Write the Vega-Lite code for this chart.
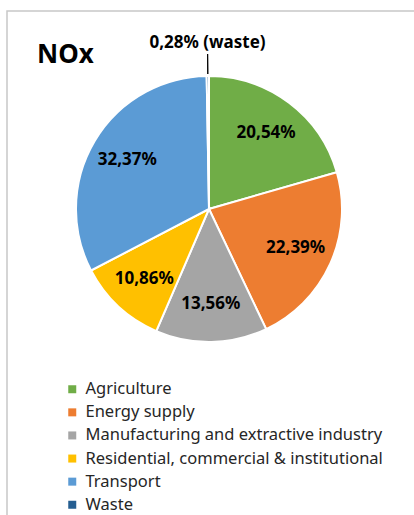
{
  "$schema": "https://vega.github.io/schema/vega-lite/v6.json",
  "width": 412,
  "height": 510,
  "autosize": {"type": "none"},
  "padding": {"left": 7, "top": 11, "right": 0, "bottom": 0},
  "background": "white",
  "view": {"stroke": "#c8c8c8", "strokeWidth": 1.5, "fill": "white"},
  "config": {
    "font": "Noto Sans"
  },
  "title": {
    "text": "NOx",
    "anchor": "start",
    "frame": "group",
    "fontSize": 26,
    "fontWeight": "bold",
    "color": "#000000",
    "font": "Noto Sans",
    "baseline": "alphabetic",
    "dx": 30,
    "dy": 82
  },
  "data": {
    "values": [
      {"sector": "Agriculture", "share": 20.54, "inner": "20,54%", "outer": ""},
      {"sector": "Energy supply", "share": 22.39, "inner": "22,39%", "outer": ""},
      {"sector": "Manufacturing and extractive industry", "share": 13.56, "inner": "13,56%", "outer": ""},
      {"sector": "Residential, commercial & institutional", "share": 10.86, "inner": "10,86%", "outer": ""},
      {"sector": "Transport", "share": 32.37, "inner": "32,37%", "outer": ""},
      {"sector": "Waste", "share": 0.28, "inner": "", "outer": "0,28% (waste)"}
    ]
  },
  "layer": [
    {
      "mark": {"type": "arc", "outerRadius": 133, "stroke": "white", "strokeWidth": 2, "x": 202, "y": 198},
      "encoding": {
        "theta": {"field": "share", "type": "quantitative", "stack": true},
        "order": {"field": "sector", "sort": "ascending"},
        "color": {
          "field": "sector",
          "type": "nominal",
          "scale": {
            "domain": ["Agriculture", "Energy supply", "Manufacturing and extractive industry", "Residential, commercial & institutional", "Transport", "Waste"],
            "range": ["#70AD47", "#ED7D31", "#A5A5A5", "#FFC000", "#5B9BD5", "#255E91"]
          },
          "legend": {
            "orient": "none",
            "legendX": 57,
            "legendY": 370,
            "title": null,
            "padding": 0,
            "symbolType": "square",
            "symbolSize": 64,
            "symbolStrokeWidth": 0,
            "labelFontSize": 16.5,
            "labelFont": "Noto Sans",
            "labelColor": "#262626",
            "labelOffset": 5,
            "labelLimit": 400,
            "rowPadding": 6.1
          }
        }
      }
    },
    {
      "mark": {"type": "arc", "innerRadius": 135, "outerRadius": 155, "padAngle": 0.4, "fillOpacity": 0, "stroke": "black", "strokeWidth": 1, "x": 202, "y": 198},
      "encoding": {
        "theta": {"field": "share", "type": "quantitative", "stack": true},
        "order": {"field": "sector", "sort": "ascending"},
        "detail": {"field": "sector", "type": "nominal"},
        "strokeOpacity": {"condition": {"test": "datum.sector === 'Waste'", "value": 1}, "value": 0}
      }
    },
    {
      "mark": {"type": "text", "radius": 95, "fontSize": 17, "fontWeight": "bold", "fill": "#000000", "font": "Noto Sans", "x": 202, "y": 198},
      "encoding": {
        "theta": {"field": "share", "type": "quantitative", "stack": true},
        "order": {"field": "sector", "sort": "ascending"},
        "detail": {"field": "sector", "type": "nominal"},
        "text": {"field": "inner", "type": "nominal"}
      }
    },
    {
      "mark": {"type": "text", "radius": 166, "fontSize": 17, "fontWeight": "bold", "fill": "#000000", "font": "Noto Sans", "x": 202, "y": 198},
      "encoding": {
        "theta": {"field": "share", "type": "quantitative", "stack": true},
        "order": {"field": "sector", "sort": "ascending"},
        "detail": {"field": "sector", "type": "nominal"},
        "text": {"field": "outer", "type": "nominal"}
      }
    }
  ]
}
